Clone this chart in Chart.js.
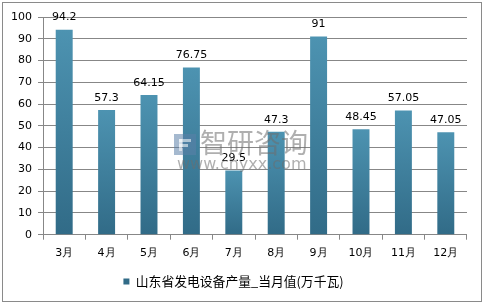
<!DOCTYPE html>
<html><head><meta charset="utf-8">
<script src="https://cdn.jsdelivr.net/npm/chart.js@4/dist/chart.umd.min.js"></script>
<style>html,body{margin:0;padding:0;background:#fff}#wrap{width:484px;height:307px}</style>
</head><body><div id="wrap"><canvas id="c" width="484" height="307"></canvas></div>
<script>
const categories = ["3月","4月","5月","6月","7月","8月","9月","10月","11月","12月"];
const values = [94.2,57.3,64.15,76.75,29.5,47.3,91,48.45,57.05,47.05];
const valueLabels = ["94.2","57.3","64.15","76.75","29.5","47.3","91","48.45","57.05","47.05"];
const seriesName = "山东省发电设备产量_当月值(万千瓦)";
const yTicks = [0,10,20,30,40,50,60,70,80,90,100];

const FONT = "'DejaVu Sans', Verdana, sans-serif";
const GRID = '#878787';

function barColor(ctx){
  const chart = ctx.chart;
  if (!chart.chartArea || ctx.type !== 'data') return '#3f86a6';
  const y = chart.scales.y;
  const top = y.getPixelForValue(ctx.parsed ? ctx.parsed.y : values[ctx.dataIndex]);
  const bot = y.getPixelForValue(0);
  const g = chart.ctx.createLinearGradient(0, top, 0, bot);
  g.addColorStop(0, '#4d93b1');
  g.addColorStop(1, '#316b87');
  return g;
}

const framePlugin = {
  id: 'frame',
  beforeDraw(chart){
    const c = chart.ctx;
    c.save();
    c.fillStyle = '#fff';
    c.fillRect(0,0,chart.width,chart.height);
    c.strokeStyle = '#8a8a8a';
    c.lineWidth = 1;
    c.strokeRect(2.5,2.5,479,299);
    c.restore();
  }
};

const labelPlugin = {
  id: 'vlabels',
  afterDatasetsDraw(chart){
    const c = chart.ctx;
    const meta = chart.getDatasetMeta(0);
    c.save();
    c.font = '11px ' + FONT;
    c.fillStyle = '#000';
    c.textAlign = 'center';
    c.textBaseline = 'middle';
    meta.data.forEach((bar, i) => {
      c.fillText(valueLabels[i], bar.x, bar.y - 12);
    });
    c.restore();
  }
};

const watermarkPlugin = {
  id: 'watermark',
  afterDraw(chart){
    const c = chart.ctx;
    c.save();
    c.globalAlpha = 0.55;
    c.fillStyle = '#5b7fa8';
    c.fillRect(174, 134, 22, 21);
    c.fillStyle = '#fff';
    c.fillRect(179, 139, 12, 3);
    c.fillRect(179, 144, 9, 3);
    c.fillRect(179, 139, 3, 12);
    c.fillStyle = '#6e6e6e';
    c.font = '27px "Noto Sans CJK SC", sans-serif';
    c.textBaseline = 'middle';
    c.textAlign = 'left';
    c.fillText('智研咨询', 200, 143);
    c.font = '16px ' + FONT;
    c.fillText('www.chyxx.com', 177, 165);
    c.restore();
  }
};

new Chart(document.getElementById('c'), {
  type: 'bar',
  data: {
    labels: categories,
    datasets: [{
      label: seriesName,
      data: values,
      backgroundColor: barColor,
      borderWidth: 0,
      barPercentage: 0.4,
      categoryPercentage: 1.0
    }]
  },
  options: {
    responsive: false,
    animation: false,
    devicePixelRatio: 1,
    layout: { padding: { left: 0, right: 17, top: 17, bottom: 9 } },
    plugins: {
      tooltip: { enabled: false },
      legend: {
        position: 'bottom',
        labels: {
          boxWidth: 6, boxHeight: 6, padding: 10,
          color: '#000',
          font: { size: 12.8, family: "'Noto Sans CJK SC', 'DejaVu Sans', sans-serif" }
        }
      }
    },
    scales: {
      x: {
        offset: true,
        grid: { display: true, drawOnChartArea: false, offset: true, tickLength: 5, color: GRID },
        border: { display: false },
        ticks: { color: '#000', padding: 7, font: { size: 11, family: FONT }, maxRotation: 0 },
        afterFit(s){ s.height = 30.5; }
      },
      y: {
        min: 0, max: 100,
        afterBuildTicks(s){ s.ticks = yTicks.map(v => ({value: v})); },
        grid: { color: GRID, tickLength: 5 },
        border: { display: true, color: GRID },
        ticks: { color: '#000', padding: 6, font: { size: 11, family: FONT } },
        afterFit(s){ s.width = 43; }
      }
    }
  },
  plugins: [framePlugin, labelPlugin, watermarkPlugin]
});
</script></body></html>
